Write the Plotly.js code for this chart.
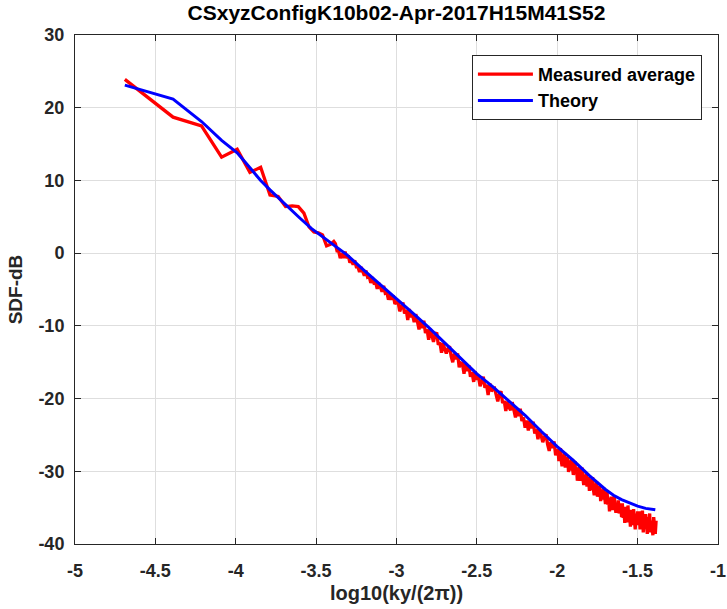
<!DOCTYPE html>
<html>
<head>
<meta charset="utf-8">
<script src="https://cdn.plot.ly/plotly-3.0.1.min.js"></script>
<style>html,body{margin:0;padding:0;background:#fff;}#chart{width:727px;height:609px;}</style>
</head>
<body>
<div id="chart"></div>
<script>
// ---- Data ----
var chartTitle = "CSxyzConfigK10b02-Apr-2017H15M41S52";
var xTitle = "log10(ky/(2\u03c0))";
var yTitle = "SDF-dB";
var seriesNames = ["Measured average", "Theory"];

var xTickVals = [-5, -4.5, -4, -3.5, -3, -2.5, -2, -1.5, -1];
var xTickText = ["-5", "-4.5", "-4", "-3.5", "-3", "-2.5", "-2", "-1.5", "-1"];
var yTickVals = [-40, -30, -20, -10, 0, 10, 20, 30];
var yTickText = ["-40", "-30", "-20", "-10", "0", "10", "20", "30"];

// Measured average: sparse low-wavenumber part
var redXLow = [-4.69, -4.39, -4.213, -4.088, -3.991, -3.912, -3.845, -3.787, -3.736, -3.69,
               -3.649, -3.611, -3.576, -3.544, -3.514, -3.486, -3.46, -3.435, -3.411, -3.39];
var redYLow = [23.9, 18.7, 17.5, 13.2, 14.3, 11.1, 11.8, 8.0, 7.8, 6.4,
               6.5, 6.4, 5.5, 3.6, 2.9, 2.8, 2.5, 1.0, 1.2, 1.6];

// Measured average: middle part
var redXMid = [-3.38,-3.37,-3.36,-3.35,-3.34,-3.33,-3.32,-3.31,-3.30,-3.29,-3.28,-3.27,-3.26,-3.25,-3.24,-3.23,-3.22,-3.21,-3.20,
  -3.19,-3.18,-3.17,-3.16,-3.15,-3.14,-3.13,-3.12,-3.11,-3.10,-3.09,-3.08,-3.07,-3.06,-3.05,-3.04,-3.03,-3.02,-3.01,-3.00,
  -2.99,-2.98,-2.97,-2.96,-2.95,-2.94,-2.93,-2.92,-2.91,-2.90,
  -2.89,-2.88,-2.87,-2.86,-2.85,-2.84,-2.83,-2.82,-2.81,-2.80,
  -2.79,-2.78,-2.77,-2.76,-2.75,-2.74,-2.73,-2.72,-2.71,-2.70,
  -2.69,-2.68,-2.67,-2.66,-2.65,-2.64,-2.63,-2.62,-2.61,-2.60,
  -2.59,-2.58,-2.57,-2.56,-2.55,-2.54,-2.53,-2.52,-2.51,-2.50,
  -2.49,-2.48,-2.47,-2.46,-2.45,-2.44,-2.43,-2.42,-2.41,-2.40,
  -2.39,-2.38,-2.37,-2.36,-2.35,-2.34,-2.33,-2.32,-2.31,-2.30,
  -2.29,-2.28,-2.27,-2.26,-2.25,-2.24,-2.23,-2.22,-2.21,-2.20,
  -2.19,-2.18,-2.17,-2.16,-2.15,-2.14,-2.13,-2.12,-2.11,-2.10,
  -2.09,-2.08,-2.07,-2.06,-2.05,-2.04,-2.03,-2.02,-2.01,-2.00];
var redYMid = [1.3,0.3,0.3,-0.7,0.0,-0.65,0.2,-0.7,-0.3,-1.3,-1.0,-1.6,-1.0,-1.9,-1.9,-2.6,-1.9,-2.6,-3.1,
  -2.4,-3.3,-3.2,-4.1,-3.3,-4.1,-4.0,-4.9,-4.1,-4.8,-5.3,-4.5,-5.5,-5.4,-6.4,-5.7,-6.4,-5.8,-7.0,-6.7,
  -6.7,-8.0,-7.4,-6.8,-8.3,-7.8,-9.2,-7.7,-8.8,-8.5,
  -9.5,-8.4,-9.4,-10.5,-9.3,-10.3,-9.3,-11.0,-10.5,-11.9,
  -10.4,-11.3,-12.2,-11.2,-10.9,-12.6,-12.3,-13.7,-12.4,-13.2,
  -13.8,-13.1,-12.8,-14.2,-15.0,-13.8,-14.6,-13.8,-15.7,-15.1,
  -15.2,-16.6,-15.2,-16.2,-15.4,-17.0,-16.4,-17.7,-16.3,-17.4,
  -17.0,-18.3,-17.6,-17.0,-18.5,-18.1,-19.5,-17.9,-19.0,-18.7,
  -18.6,-19.5,-20.4,-19.4,-19.0,-20.6,-20.3,-21.7,-20.4,-21.2,
  -21.6,-20.5,-21.5,-22.6,-21.4,-22.4,-21.4,-23.1,-22.6,-24.0,
  -23.0,-24.4,-23.1,-24.1,-23.2,-24.8,-24.2,-25.6,-24.2,-25.3,
  -26.0,-25.3,-24.9,-26.3,-27.2,-26.0,-26.8,-25.9,-27.8,-27.2];

// Measured average: dense high-wavenumber part
var redXHigh = [-1.995,-1.990,-1.985,-1.980,-1.975,-1.970,-1.965,-1.960,-1.955,-1.950,-1.945,-1.940,-1.935,-1.930,-1.925,-1.920,-1.915,-1.910,-1.905,-1.900,
  -1.895,-1.890,-1.885,-1.880,-1.875,-1.870,-1.865,-1.860,-1.855,-1.850,-1.845,-1.840,-1.835,-1.830,-1.825,-1.820,-1.815,-1.810,-1.805,-1.800,
  -1.795,-1.790,-1.785,-1.780,-1.775,-1.770,-1.765,-1.760,-1.755,-1.750,-1.745,-1.740,-1.735,-1.730,-1.725,-1.720,-1.715,-1.710,-1.705,-1.700,
  -1.695,-1.690,-1.685,-1.680,-1.675,-1.670,-1.665,-1.660,-1.655,-1.650,-1.645,-1.640,-1.635,-1.630,-1.625,-1.620,-1.615,-1.610,-1.605,-1.600,
  -1.595,-1.590,-1.585,-1.580,-1.575,-1.570,-1.565,-1.560,-1.555,-1.550,-1.545,-1.540,-1.535,-1.530,-1.525,-1.520,-1.515,-1.510,-1.505,-1.500,
  -1.495,-1.490,-1.485,-1.480,-1.475,-1.470,-1.465,-1.460,-1.455,-1.450,-1.445,-1.440,-1.435,-1.430,-1.425,-1.420,-1.415,-1.410,-1.405,-1.400,-1.395,-1.390,-1.385];
var redYHigh = [-27.0,-28.6,-27.6,-26.8,-28.5,-29.3,-27.8,-28.5,-27.4,-29.5,-28.4,-29.2,-28.0,-30.1,-29.0,-28.5,-29.9,-28.3,-29.6,-30.5,
  -29.7,-28.6,-30.4,-29.5,-31.3,-30.0,-29.4,-30.7,-31.3,-30.1,-29.5,-31.1,-31.9,-30.7,-31.6,-30.3,-32.1,-31.4,-30.8,-32.7,
  -31.0,-32.6,-31.6,-30.8,-32.5,-33.3,-31.8,-32.5,-31.4,-33.5,-32.4,-33.2,-32.0,-34.1,-33.0,-32.5,-33.9,-32.3,-33.6,-34.5,
  -34.0,-32.8,-34.6,-33.7,-35.5,-34.1,-33.5,-34.8,-35.3,-34.0,-33.4,-34.9,-35.7,-34.5,-35.4,-34.0,-35.8,-35.1,-34.4,-36.3,
  -34.4,-36.4,-35.2,-37.1,-34.9,-36.1,-37.0,-34.7,-36.5,-35.9,-37.6,-35.3,-36.5,-37.4,-35.2,-36.3,-38.0,-35.8,-37.3,-35.5,
  -37.4,-35.5,-38.0,-36.3,-37.2,-35.4,-38.4,-36.8,-37.9,-35.9,-37.2,-38.6,-36.3,-37.8,-35.8,-38.4,-36.8,-37.6,-38.8,-36.3,-38.1,-38.6,-36.8];

// Theory curve
var theoryX = [-4.69, -4.39, -4.213, -4.088, -3.991, -3.912, -3.845, -3.787, -3.736, -3.69, -3.6, -3.53, -3.45, -3.39,
  -3.31, -3.2, -3.1, -3.0, -2.9, -2.8, -2.7, -2.6, -2.5, -2.4, -2.3, -2.2, -2.1, -2.0, -1.9, -1.8, -1.7, -1.65,
  -1.6, -1.55, -1.5, -1.45, -1.39];
var theoryY = [23.1, 21.2, 18.1, 15.5, 13.8, 11.7, 10.0, 8.7, 7.6, 6.7, 4.8, 3.4, 2.1, 1.1,
  -0.2, -2.4, -4.3, -6.3, -8.2, -10.2, -12.3, -14.5, -16.6, -18.4, -20.3, -22.3, -24.5, -26.6, -28.5, -30.6, -32.5, -33.3,
  -33.9, -34.4, -34.8, -35.1, -35.3];

// ---- Build chart ----
var measuredX = redXLow.concat(redXMid, redXHigh);
var measuredY = redYLow.concat(redYMid, redYHigh);

var FONT = "'Liberation Sans', Arial, Helvetica, sans-serif";
var AX = '#262626';

var traces = [
  {x: measuredX, y: measuredY, type: 'scatter', mode: 'lines', name: seriesNames[0],
   line: {color: 'rgb(255,0,0)', width: 3.3}},
  {x: theoryX, y: theoryY, type: 'scatter', mode: 'lines', name: seriesNames[1],
   line: {color: 'rgb(0,0,255)', width: 3}}
];

function axisBase() {
  return {
    showline: true, linecolor: AX, linewidth: 1, mirror: 'ticks',
    ticks: 'inside', ticklen: 6, tickwidth: 1, tickcolor: AX,
    showgrid: true, gridcolor: '#dedede', gridwidth: 1,
    zeroline: false, automargin: false, ticklabeloverflow: 'allow',
    tickfont: {family: FONT, size: 18, color: AX, weight: 'bold'}
  };
}

var xaxis = axisBase();
xaxis.range = [-5, -1];
xaxis.tickmode = 'array';
xaxis.tickvals = xTickVals;
xaxis.ticktext = xTickText;
xaxis.ticklabelstandoff = 10;
xaxis.title = {text: xTitle, standoff: 6, font: {family: FONT, size: 20, color: AX, weight: 'bold'}};

var yaxis = axisBase();
yaxis.range = [-40, 30];
yaxis.tickmode = 'array';
yaxis.tickvals = yTickVals;
yaxis.ticktext = yTickText;
yaxis.ticklabelstandoff = 6;
yaxis.title = {text: yTitle, standoff: 10, font: {family: FONT, size: 19, color: AX, weight: 'bold'}};

var layout = {
  width: 727, height: 609,
  margin: {l: 75, r: 9, t: 35, b: 65, pad: 0},
  paper_bgcolor: '#ffffff', plot_bgcolor: '#ffffff',
  title: {text: chartTitle, x: 0.5, xref: 'paper', xanchor: 'center',
          y: 0.979, yref: 'container', yanchor: 'middle',
          font: {family: FONT, size: 21, color: '#000000', weight: 'bold'}},
  xaxis: xaxis, yaxis: yaxis,
  showlegend: true,
  legend: {x: 0.975, xanchor: 'right', y: 0.961, yanchor: 'top',
           bgcolor: '#ffffff', bordercolor: AX, borderwidth: 1,
           itemwidth: 55,
           font: {family: FONT, size: 18, color: '#000000', weight: 'bold'},
           tracegroupgap: 0}
};

Plotly.newPlot('chart', traces, layout, {staticPlot: true, displayModeBar: false});
</script>
</body>
</html>
